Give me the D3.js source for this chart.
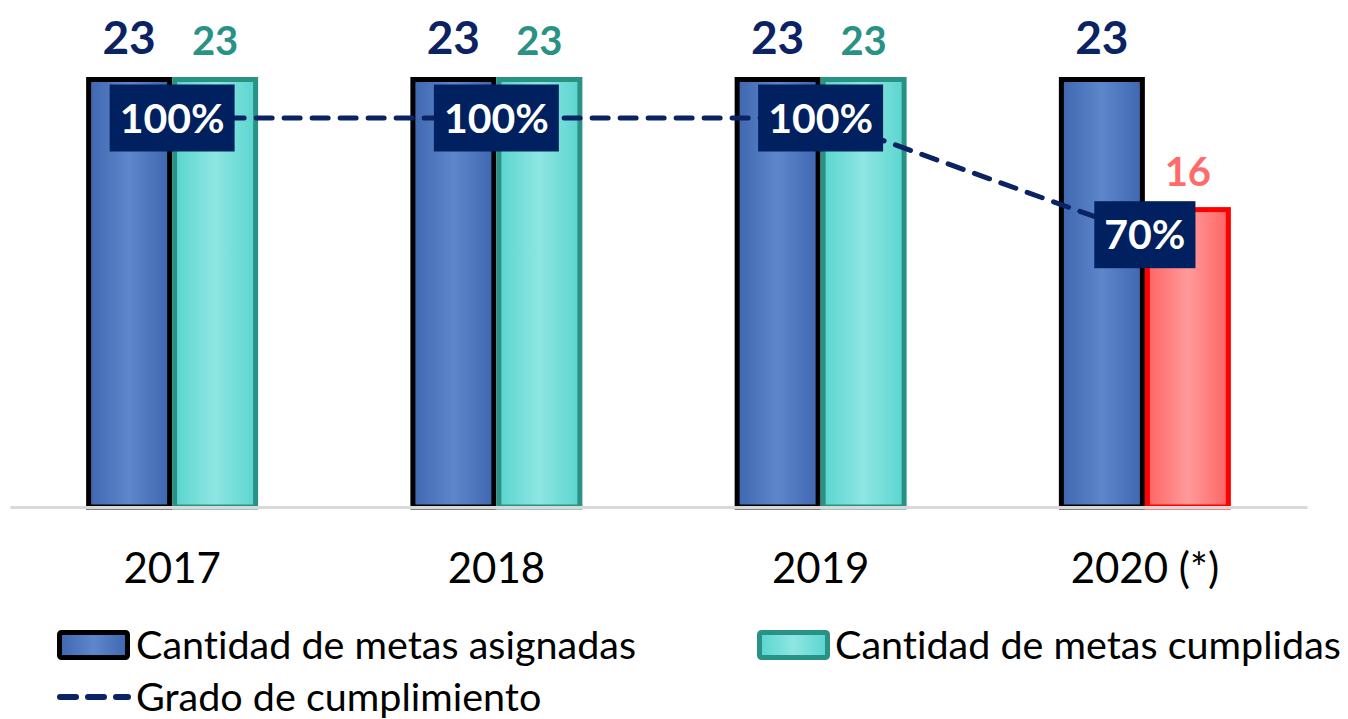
<!DOCTYPE html>
<html><head><meta charset="utf-8">
<script src="https://cdn.jsdelivr.net/npm/d3@7"></script>
<style>body{margin:0;background:#fff;}svg{display:block;}text{font-variant-ligatures:none;}</style>
</head><body>
<svg id="chart" width="1348" height="719"></svg>
<script>
const categories = ["2017", "2018", "2019", "2020 (*)"];
const asignadas = [23, 23, 23, 23];
const cumplidas = [23, 23, 23, 16];
const grado = [1.00, 1.00, 1.00, 0.70];
const seriesNames = ["Cantidad de metas asignadas", "Cantidad de metas cumplidas", "Grado de cumplimiento"];

const FONT = "Lato, 'Open Sans', sans-serif";
const svg = d3.select("#chart");
const defs = svg.append("defs");
function grad(id, edge, mid) {
  const g = defs.append("linearGradient").attr("id", id).attr("x1", "0").attr("x2", "1").attr("y1", "0").attr("y2", "0");
  g.append("stop").attr("offset", "0%").attr("stop-color", edge);
  g.append("stop").attr("offset", "50%").attr("stop-color", mid);
  g.append("stop").attr("offset", "100%").attr("stop-color", edge);
}
grad("gBlue", "#3F67B0", "#5E86CB");
grad("gTeal", "#5AD5CF", "#8EE6E2");
grad("gRed", "#FF6464", "#FF9A9A");

const x0 = d3.scaleBand().domain(categories).range([10, 1307]);
const x1 = d3.scaleBand().domain(["a", "c"]).range([-86, 86]);
const y = d3.scaleLinear().domain([0, 25]).range([507, 507 - 25 * 18.587]);
const yP = d3.scaleLinear().domain([0, 1]).range([507, 118]);
const cx = c => x0(c) + x0.bandwidth() / 2;

const data = categories.map((c, i) => ({c, a: asignadas[i], m: cumplidas[i], g: grado[i], i}));

// bars
const gBars = svg.append("g");
data.forEach(d => {
  gBars.append("rect")
    .attr("x", cx(d.c) + x1("a") + 2.5).attr("width", x1.bandwidth() - 5)
    .attr("y", y(d.a)).attr("height", y(0) - y(d.a))
    .attr("fill", "url(#gBlue)").attr("stroke", "#000").attr("stroke-width", 5);
  const red = d.i === 3;
  gBars.append("rect")
    .attr("x", cx(d.c) + x1("c") + 2.5).attr("width", x1.bandwidth() - 5)
    .attr("y", y(d.m)).attr("height", y(0) - y(d.m))
    .attr("fill", red ? "url(#gRed)" : "url(#gTeal)")
    .attr("stroke", red ? "#FF0000" : "#2A9185").attr("stroke-width", 5);
});

// axis baseline
const axis = d3.axisBottom(x0).tickSize(0).tickPadding(46);
const gx = svg.append("g").attr("transform", `translate(0,${y(0)})`).call(axis);
gx.select(".domain").attr("stroke", "#D9D9D9").attr("stroke-width", 3);
gx.selectAll("text").attr("font-family", FONT).attr("font-size", 42).attr("fill", "#000");

// value labels
data.forEach(d => {
  svg.append("text").attr("x", cx(d.c) + x1("a") + x1.bandwidth() / 2).attr("y", y(d.a) - 25)
    .attr("text-anchor", "middle").attr("font-family", FONT).attr("font-weight", 700)
    .attr("font-size", 46).attr("fill", "#0C2363").text(d.a);
  const red = d.i === 3;
  svg.append("text").attr("x", cx(d.c) + x1("c") + x1.bandwidth() / 2).attr("y", y(d.m) - 24)
    .attr("text-anchor", "middle").attr("font-family", FONT).attr("font-weight", 700)
    .attr("font-size", 40).attr("fill", red ? "#FF6B6B" : "#2A9185").text(d.m);
});

// line
const line = d3.line().x(d => cx(d.c)).y(d => yP(d.g));
svg.append("path").datum(data).attr("d", line).attr("fill", "none")
  .attr("stroke", "#0C2363").attr("stroke-width", 5).attr("stroke-dasharray", "16,12")
  .attr("stroke-linecap", "round");

// percent labels
data.forEach(d => {
  const g = svg.append("g").attr("transform", `translate(${cx(d.c)},${yP(d.g)})`);
  const rect = g.append("rect").attr("fill", "#002060");
  const t = g.append("text").attr("text-anchor", "middle").attr("dy", "0.36em")
    .attr("font-family", FONT).attr("font-weight", 700).attr("font-size", 41)
    .attr("fill", "#fff").text(d3.format(".0%")(d.g));
  const w = t.node().getComputedTextLength() + 20;
  rect.attr("x", -w / 2).attr("y", -33.5).attr("width", w).attr("height", 67);
});

// legend
const lg = svg.append("g").attr("font-family", FONT).attr("font-size", 39.5).attr("fill", "#000");
function swatch(x, yy, fill, stroke) {
  lg.append("rect").attr("x", x).attr("y", yy).attr("width", 68).attr("height", 25).attr("rx", 2)
    .attr("fill", fill).attr("stroke", stroke).attr("stroke-width", 5);
}
swatch(59.5, 632.5, "url(#gBlue)", "#000");
lg.append("text").attr("x", 136).attr("y", 645).attr("dy", "0.35em").text(seriesNames[0]);
swatch(759.5, 632.5, "url(#gTeal)", "#2A9185");
lg.append("text").attr("x", 835).attr("y", 645).attr("dy", "0.35em").text(seriesNames[1]);
lg.append("line").attr("x1", 60).attr("x2", 128).attr("y1", 697).attr("y2", 697)
  .attr("stroke", "#0C2363").attr("stroke-width", 6).attr("stroke-dasharray", "16,12").attr("stroke-linecap", "round");
lg.append("text").attr("x", 136).attr("y", 697).attr("dy", "0.35em").text(seriesNames[2]);
</script>
</body></html>
